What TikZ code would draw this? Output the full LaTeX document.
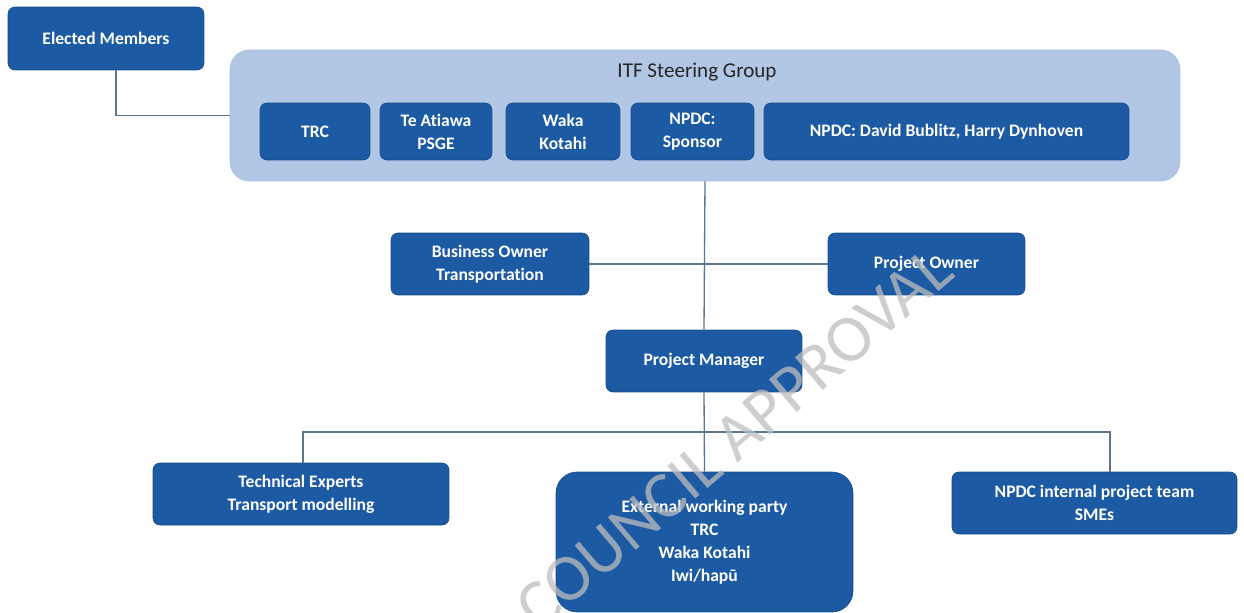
\documentclass[tikz,border=0pt]{standalone}
\usepackage{fontspec}
\setmainfont{Carlito}[Ligatures=NoCommon]
\usepackage{xcolor}
\usetikzlibrary{positioning}
\definecolor{boxfill}{HTML}{1C5AA3}
\definecolor{boxstroke}{HTML}{174C8C}
\definecolor{groupfill}{HTML}{B2C6E6}
\definecolor{groupstroke}{HTML}{A7BCDF}
\definecolor{linkgray}{HTML}{5B7592}
\definecolor{titletext}{HTML}{262626}
\definecolor{markgray}{HTML}{BDBDBD}

\begin{document}
\begin{tikzpicture}[
  x=0.02cm,
  y=-0.02cm,
  every node/.style={
    rectangle,
    rounded corners=4pt,
    align=center,
    inner sep=2pt,
    minimum height=1.24cm
  },
  unit/.style={
    draw=boxstroke,
    fill=boxfill,
    text=white,
    line width=0.4pt,
    font=\fontsize{10}{13}\selectfont\bfseries
  },
  group/.style={
    draw=groupstroke,
    fill=groupfill,
    rounded corners=11pt,
    line width=0.4pt,
    minimum width=19cm,
    minimum height=2.62cm
  },
  link/.style={
    draw=linkgray,
    line width=0.75pt
  }
]
\useasboundingbox (0,0) rectangle (1244,612);

% Top: elected members and steering group
\node[unit, minimum width=3.92cm, minimum height=1.26cm] (elected) at (106,38.5) {Elected Members};
\node[group] (itf) at (705,115.5) {};
\node[draw=none, fill=none, text=titletext, minimum height=0pt,
  font=\fontsize{12}{14}\selectfont] (itftitle) at (697,72) {ITF Steering Group};

% Steering group members, left to right
\node[unit, minimum width=2.20cm, minimum height=1.14cm] (trc)     at (315,131.5) {TRC};
\node[unit, minimum width=2.24cm, minimum height=1.14cm] (atiawa)  at (436,131.5) {Te Atiawa\\PSGE};
\node[unit, minimum width=2.28cm, minimum height=1.14cm] (waka)    at (563,131.5) {Waka\\Kotahi};
\node[unit, minimum width=2.46cm, minimum height=1.14cm] (sponsor) at (692.5,131.5) {NPDC:\\Sponsor};
\node[unit, minimum width=7.30cm, minimum height=1.14cm] (npdc)    at (946.5,131.5) {NPDC: David Bublitz, Harry Dynhoven};

% Owners and manager
\node[unit, minimum width=3.96cm] (business) at (490,264)   {Business Owner\\Transportation};
\node[unit, minimum width=3.94cm] (owner)    at (926.5,264) {Project Owner};
\node[unit, minimum width=3.92cm] (manager)  at (704,361)   {Project Manager};

% Working teams
\node[unit, minimum width=5.92cm] (experts)  at (301,494) {Technical Experts\\Transport modelling};
\node[unit, minimum width=5.94cm, minimum height=2.80cm, rounded corners=12pt] (external) at (704.5,542)
  {External working party\\TRC\\Waka Kotahi\\Iwi/hapū};
\node[unit, minimum width=5.70cm] (internal) at (1094.5,503) {NPDC internal project team\\SMEs};

\coordinate (bus) at (705,432);

% Connectors
\draw[link] ([xshift=0.2cm]elected.south) |- (itf.west);
\draw[link] (itf.south) -- (manager.north);
\draw[link] (business.east) -- (owner.west);
\draw[link] (manager.south) -- (external.north);
\draw[link] ([xshift=0.04cm]experts.north) |- (bus) -| ([xshift=0.31cm]internal.north);

% Watermark
\node[draw=none, fill=none, rotate=40.5, text=markgray, opacity=0.75, minimum height=0pt,
  font=\fontsize{38}{38}\selectfont] (mark) at (734,438) {COUNCIL APPROVAL};

\end{tikzpicture}
\end{document}
